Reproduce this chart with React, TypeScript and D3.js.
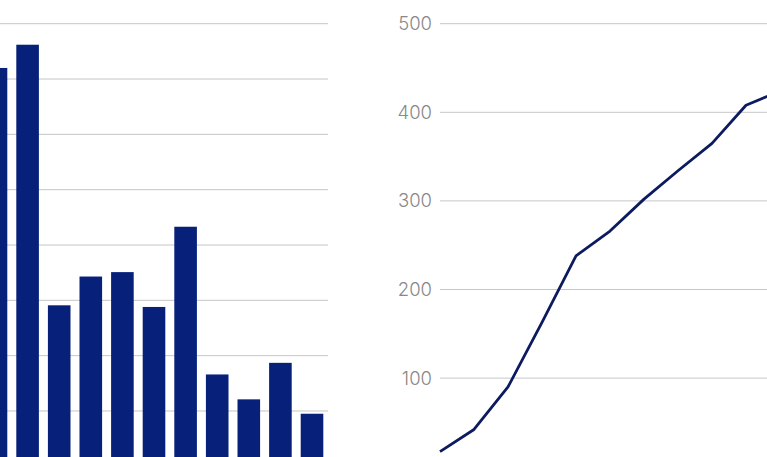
import React from 'react';
import * as d3 from 'd3';

// Left panel: annual bars (axis cropped out of view)
const barYears = ['2013', '2014', '2015', '2016', '2017', '2018', '2019', '2020', '2021', '2022', '2023'];
const barValues = [72, 76.2, 29.1, 34.3, 35.1, 28.8, 43.3, 16.6, 12.1, 18.7, 9.5];
const barTicks = [10, 20, 30, 40, 50, 60, 70, 80];

// Right panel: cumulative line
const lineYears = ['2013', '2014', '2015', '2016', '2017', '2018', '2019', '2020', '2021', '2022', '2023'];
const lineValues = [17, 42, 90, 163, 238, 266, 302, 334, 365, 408, 424];
const lineTicks = [100, 200, 300, 400, 500];

const W = 767;
const H = 457;
const barColor = '#07207a';
const lineColor = '#0c1b60';
const gridColor = '#c6c6c6';
const labelColor = '#888888';

const App: React.FC = () => {
  // bar chart scales
  const bx = d3.scaleBand<string>()
    .domain(barYears)
    .range([-15.3, 323.3])
    .paddingInner(0.285)
    .paddingOuter(0);
  const by = d3.scaleLinear().domain([0, 80]).range([466.3, 23.7]);

  // line chart scales
  const lx = d3.scalePoint<string>().domain(lineYears).range([440, 780]);
  const ly = d3.scaleLinear().domain([0, 500]).range([466.7, 23.7]);

  const line = d3.line<number>()
    .x((_, i) => lx(lineYears[i]) as number)
    .y(d => ly(d));

  return (
    <svg
      width={W}
      height={H}
      style={{ position: 'absolute', left: 0, top: 0, background: '#fff', overflow: 'hidden' }}
    >
      {/* bar grid */}
      <g>
        {barTicks.map(t => (
          <line key={t} x1={-20} x2={328} y1={by(t)} y2={by(t)} stroke={gridColor} strokeWidth={1} />
        ))}
      </g>
      <g>
        {barValues.map((v, i) => (
          <rect
            key={barYears[i]}
            x={bx(barYears[i])}
            y={by(v)}
            width={bx.bandwidth()}
            height={by(0) - by(v)}
            fill={barColor}
          />
        ))}
      </g>

      {/* line grid + labels */}
      <g>
        {lineTicks.map(t => (
          <g key={t}>
            <line x1={440} x2={W} y1={ly(t)} y2={ly(t)} stroke={gridColor} strokeWidth={1} />
            <text
              x={432}
              y={ly(t) + 1.5}
              textAnchor="end"
              dominantBaseline="middle"
              fontFamily="Inter, 'Noto Sans', sans-serif"
              fontWeight={300}
              fontSize={18.5}
              fill={labelColor}
            >
              {t}
            </text>
          </g>
        ))}
      </g>
      <path
        d={line(lineValues) ?? ''}
        fill="none"
        stroke={lineColor}
        strokeWidth={2.8}
        strokeLinejoin="round"
      />
    </svg>
  );
};

export default App;
